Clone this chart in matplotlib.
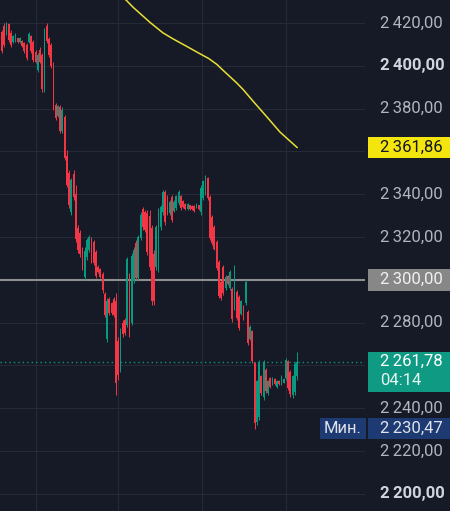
import matplotlib
matplotlib.use("Agg")
import matplotlib.pyplot as plt
from matplotlib.patches import Rectangle
from matplotlib.transforms import blended_transform_factory

plt.rcParams['font.family'] = ['Roboto', 'DejaVu Sans']

# OHLC candles
opens = [2416.0, 2418.5, 2415.0, 2419.5, 2415.5, 2411.0, 2411.5, 2412.8, 2411.0, 2411.8,
         2410.5, 2409.8, 2411.2, 2413.8, 2411.0, 2406.5, 2398.0, 2407.5, 2405.0, 2389.5,
         2418.5, 2412.5, 2409.5, 2400.5, 2381.5, 2376.5, 2380.8, 2369.5, 2376.0, 2358.0,
         2350.0, 2331.5, 2349.5, 2340.0, 2324.0, 2322.0, 2314.0, 2301.5, 2310.5, 2314.0,
         2319.0, 2317.5, 2313.0, 2306.0, 2305.0, 2302.5, 2293.5, 2272.5, 2291.0, 2289.0,
         2291.0, 2290.0, 2271.5, 2258.0, 2280.0, 2281.0, 2279.0, 2302.0, 2280.0, 2299.5,
         2317.0, 2301.0, 2319.5, 2333.0, 2331.5, 2331.0, 2330.0, 2324.0, 2312.0, 2306.0,
         2305.0, 2324.5, 2331.5, 2341.0, 2338.5, 2331.0, 2338.5, 2332.0, 2333.5, 2336.0,
         2339.0, 2336.8, 2335.5, 2333.0, 2334.8, 2334.5, 2334.5, 2334.0, 2334.8, 2331.5,
         2338.0, 2340.5, 2347.5, 2338.5, 2329.5, 2324.5, 2317.5, 2308.5, 2299.0, 2306.0,
         2296.0, 2301.8, 2296.0, 2295.8, 2287.0, 2294.5, 2292.0, 2284.0, 2287.5, 2289.0,
         2285.0, 2272.5, 2276.0, 2261.0, 2233.5, 2236.0, 2255.0, 2245.0, 2258.0, 2247.0,
         2254.0, 2251.0, 2253.8, 2250.0, 2252.8, 2251.2, 2252.0, 2254.0, 2262.0, 2257.0,
         2246.0, 2247.5, 2255.0]
highs = [2416.7, 2420.0, 2420.5, 2420.0, 2416.7, 2414.4, 2415.3, 2413.0, 2413.5, 2412.1,
         2411.1, 2410.7, 2415.8, 2414.4, 2412.1, 2407.4, 2406.0, 2408.8, 2406.0, 2417.7,
         2420.0, 2413.5, 2410.7, 2401.8, 2382.6, 2381.7, 2381.7, 2380.8, 2377.0, 2360.7,
         2351.3, 2347.6, 2351.3, 2344.3, 2325.6, 2323.3, 2315.3, 2315.3, 2319.5, 2320.9,
         2320.0, 2318.6, 2313.9, 2306.9, 2305.5, 2303.6, 2294.3, 2291.5, 2292.0, 2289.6,
         2292.0, 2293.8, 2273.3, 2277.5, 2281.2, 2282.2, 2310.7, 2303.2, 2312.5, 2315.3,
         2318.6, 2320.9, 2331.7, 2334.0, 2332.6, 2332.6, 2332.6, 2325.6, 2313.9, 2325.6,
         2333.6, 2335.0, 2342.0, 2342.0, 2339.6, 2337.3, 2339.6, 2337.3, 2339.6, 2342.0,
         2339.6, 2337.3, 2335.9, 2335.9, 2335.0, 2335.0, 2335.0, 2335.9, 2335.0, 2344.3,
         2346.6, 2349.0, 2348.0, 2339.6, 2330.3, 2325.6, 2318.6, 2309.3, 2299.9, 2306.9,
         2302.2, 2302.2, 2304.6, 2296.6, 2306.9, 2295.2, 2292.9, 2290.6, 2288.2, 2299.9,
         2285.9, 2278.9, 2276.5, 2261.6, 2253.2, 2262.5, 2255.5, 2262.5, 2258.8, 2253.2,
         2254.6, 2254.6, 2254.1, 2253.2, 2253.2, 2255.5, 2254.1, 2263.5, 2262.5, 2257.9,
         2255.5, 2261.6, 2266.3]
lows = [2406.0, 2408.8, 2414.4, 2411.1, 2408.8, 2410.7, 2411.1, 2410.7, 2410.7, 2408.8,
        2406.0, 2402.7, 2410.7, 2406.0, 2401.8, 2401.3, 2397.1, 2401.3, 2387.8, 2387.8,
        2410.7, 2404.1, 2399.0, 2379.4, 2374.7, 2376.1, 2368.6, 2368.6, 2356.0, 2343.4,
        2333.6, 2330.3, 2337.3, 2317.7, 2312.5, 2310.7, 2304.6, 2299.9, 2309.3, 2313.0,
        2307.9, 2306.9, 2300.8, 2303.2, 2300.8, 2293.8, 2282.6, 2270.9, 2283.6, 2283.6,
        2282.6, 2246.2, 2253.2, 2256.9, 2273.3, 2274.2, 2277.9, 2273.3, 2278.9, 2298.5,
        2299.9, 2299.9, 2318.6, 2323.3, 2322.3, 2311.6, 2304.6, 2288.2, 2288.2, 2304.6,
        2303.6, 2323.3, 2330.3, 2325.6, 2330.3, 2330.3, 2327.0, 2331.7, 2332.6, 2335.0,
        2332.6, 2333.6, 2332.6, 2332.6, 2332.6, 2332.6, 2331.7, 2333.6, 2332.6, 2330.3,
        2337.3, 2339.6, 2337.3, 2318.6, 2316.3, 2313.9, 2304.6, 2291.5, 2290.6, 2292.9,
        2295.2, 2297.6, 2295.2, 2280.3, 2285.9, 2281.2, 2276.5, 2283.6, 2281.2, 2288.2,
        2269.5, 2271.9, 2261.1, 2230.47, 2232.2, 2234.5, 2246.2, 2243.8, 2247.1, 2246.2,
        2249.4, 2250.8, 2250.8, 2249.4, 2250.8, 2250.8, 2251.8, 2253.2, 2248.5, 2245.2,
        2244.8, 2246.2, 2253.2]
closes = [2407.0, 2409.5, 2419.5, 2412.0, 2409.5, 2414.0, 2414.8, 2411.0, 2413.2, 2409.2,
          2406.8, 2403.5, 2415.0, 2406.8, 2402.5, 2402.0, 2405.2, 2402.0, 2389.0, 2416.5,
          2411.5, 2405.0, 2400.0, 2380.5, 2375.5, 2381.0, 2369.5, 2379.5, 2357.0, 2344.5,
          2335.0, 2346.5, 2338.5, 2319.0, 2314.0, 2312.0, 2305.5, 2313.5, 2318.5, 2320.0,
          2309.0, 2308.0, 2302.0, 2303.8, 2301.5, 2295.0, 2283.5, 2290.0, 2284.5, 2284.5,
          2283.5, 2252.0, 2255.5, 2276.0, 2274.5, 2275.0, 2309.5, 2275.0, 2311.0, 2314.0,
          2301.0, 2320.0, 2330.5, 2324.5, 2323.5, 2313.0, 2306.0, 2290.0, 2290.0, 2324.5,
          2332.0, 2334.0, 2341.0, 2327.0, 2331.5, 2336.5, 2328.0, 2336.5, 2339.0, 2341.0,
          2333.5, 2334.0, 2333.0, 2335.5, 2333.0, 2333.2, 2332.0, 2335.5, 2333.0, 2343.0,
          2346.0, 2348.0, 2338.0, 2319.5, 2317.0, 2314.5, 2305.5, 2292.5, 2291.5, 2294.0,
          2301.5, 2298.0, 2303.5, 2281.5, 2305.5, 2282.0, 2277.5, 2290.0, 2282.0, 2299.0,
          2270.5, 2278.0, 2262.0, 2233.0, 2252.5, 2261.5, 2247.0, 2261.5, 2248.0, 2252.5,
          2250.0, 2254.2, 2251.2, 2252.8, 2251.2, 2255.0, 2253.8, 2262.5, 2249.5, 2246.5,
          2255.0, 2260.5, 2261.78]

# moving average (yellow), read at candle indices
ma_idx = [52, 55.5, 58.5, 61.7, 66.2, 72.0, 76.5, 80.5, 84.5, 88.6, 92.5, 96.2, 99.0,
          102.0, 105.0, 107.8, 112.3, 118.6, 124.4, 132]
ma_val = [2433.0, 2430.75, 2427.5, 2424.5, 2420.3, 2415.4, 2412.6, 2410.3, 2408.0,
          2405.6, 2403.4, 2400.6, 2397.8, 2394.9, 2392.0, 2389.0, 2383.5, 2376.0,
          2369.0, 2361.86]

tick_prices = [2420, 2400, 2380, 2340, 2320, 2280, 2240, 2220, 2200]
bold_prices = [2400, 2200]
grid_prices = [2200, 2220, 2240, 2260, 2280, 2300, 2320, 2340, 2360, 2380, 2400, 2420]
time_grid = [15.2, 51.9, 89.5, 127.1]

last_price = 2261.78
countdown = "04:14"
ma_last = 2361.86
level = 2300.00
min_price = 2230.47

BG = '#161a26'
GRID = '#262a36'
RED = '#f23645'
GREEN = '#089981'
FS = 12


def fmt(v):
    s = f"{v:,.2f}"
    return s.replace(',', '\u2009').replace('.', ',')


fig = plt.figure(figsize=(4.5, 5.11), dpi=100, facecolor=BG)

# background axes spanning the whole figure, for the time grid
bg_ax = fig.add_axes([0, 0, 1, 1], zorder=-1)
bg_ax.set_facecolor(BG)
bg_ax.set_xlim(-0.9, -0.9 + (162.4 + 0.9) * 450 / 365)
bg_ax.set_ylim(0, 1)
bg_ax.axis('off')
for t in time_grid:
    bg_ax.axvline(t, color=GRID, lw=0.8)

ax = fig.add_axes([0, 0, 365 / 450, 1])
ax.patch.set_alpha(0)
ax.set_xlim(-0.9, 162.4)
ax.set_ylim(2191.96, 2430.75)
for s in ax.spines.values():
    s.set_visible(False)
ax.set_xticks([])
ax.set_yticks([])

for p in grid_prices:
    ax.axhline(p, color=GRID, lw=0.8, zorder=0)

xs = list(range(len(closes)))
for i in xs:
    o, h, l, c = opens[i], highs[i], lows[i], closes[i]
    col = GREEN if c >= o else RED
    ax.vlines(i, l, h, color=col, lw=0.7, zorder=2)
    ax.bar(i, max(abs(c - o), 0.3), bottom=min(o, c), width=0.8, color=col,
           linewidth=0, zorder=3)

ax.plot(ma_idx, ma_val, color='#e8df35', lw=1.1, zorder=4)
ax.axhline(level, color='#8e8e8e', lw=1.5, zorder=1)
ax.axhline(last_price, color=GREEN, lw=1.0, ls=(0, (1, 2.2)), zorder=1)

# price scale
tr = blended_transform_factory(fig.transFigure, ax.transData)
lx = 380 / 450
for p in tick_prices:
    bold = p in bold_prices
    ax.text(lx, p, fmt(p), transform=tr, ha='left', va='center', fontsize=FS,
            color='#d1d4dc' if bold else '#b2b5be', fontweight='bold' if bold else 'normal',
            clip_on=False)

bx = 368 / 450
bw = 1 - bx


def box(x0, y0, w, h, col):
    ax.add_patch(Rectangle((x0, y0), w, h, transform=tr, facecolor=col,
                           edgecolor='none', clip_on=False, zorder=8))


def label(x, y, s, col, ha='left'):
    ax.text(x, y, s, transform=tr, ha=ha, va='center', fontsize=FS, color=col,
            clip_on=False, zorder=9)


box(bx, ma_last - 4.9, bw, 9.8, '#f5e50f')
label(lx, ma_last, fmt(ma_last), '#131722')

box(bx, level - 5.2, bw, 10.3, '#878787')
label(lx, level, fmt(level), '#f0f0f0')

box(bx, 2247.6, bw, 18.6, '#0f9a83')
label(lx, last_price, fmt(last_price), 'white')
label(lx, last_price - 9.0, countdown, '#e8f5f2')

box(320 / 450, min_price - 4.8, 46 / 450, 9.6, '#1d3a72')
box(bx, min_price - 4.8, bw, 9.6, '#1d3a72')
label(343 / 450, min_price, "Мин.", '#e0e3eb', ha='center')
label(lx, min_price, fmt(min_price), '#e0e3eb')

fig.savefig('out.png', dpi=100, facecolor=BG)
